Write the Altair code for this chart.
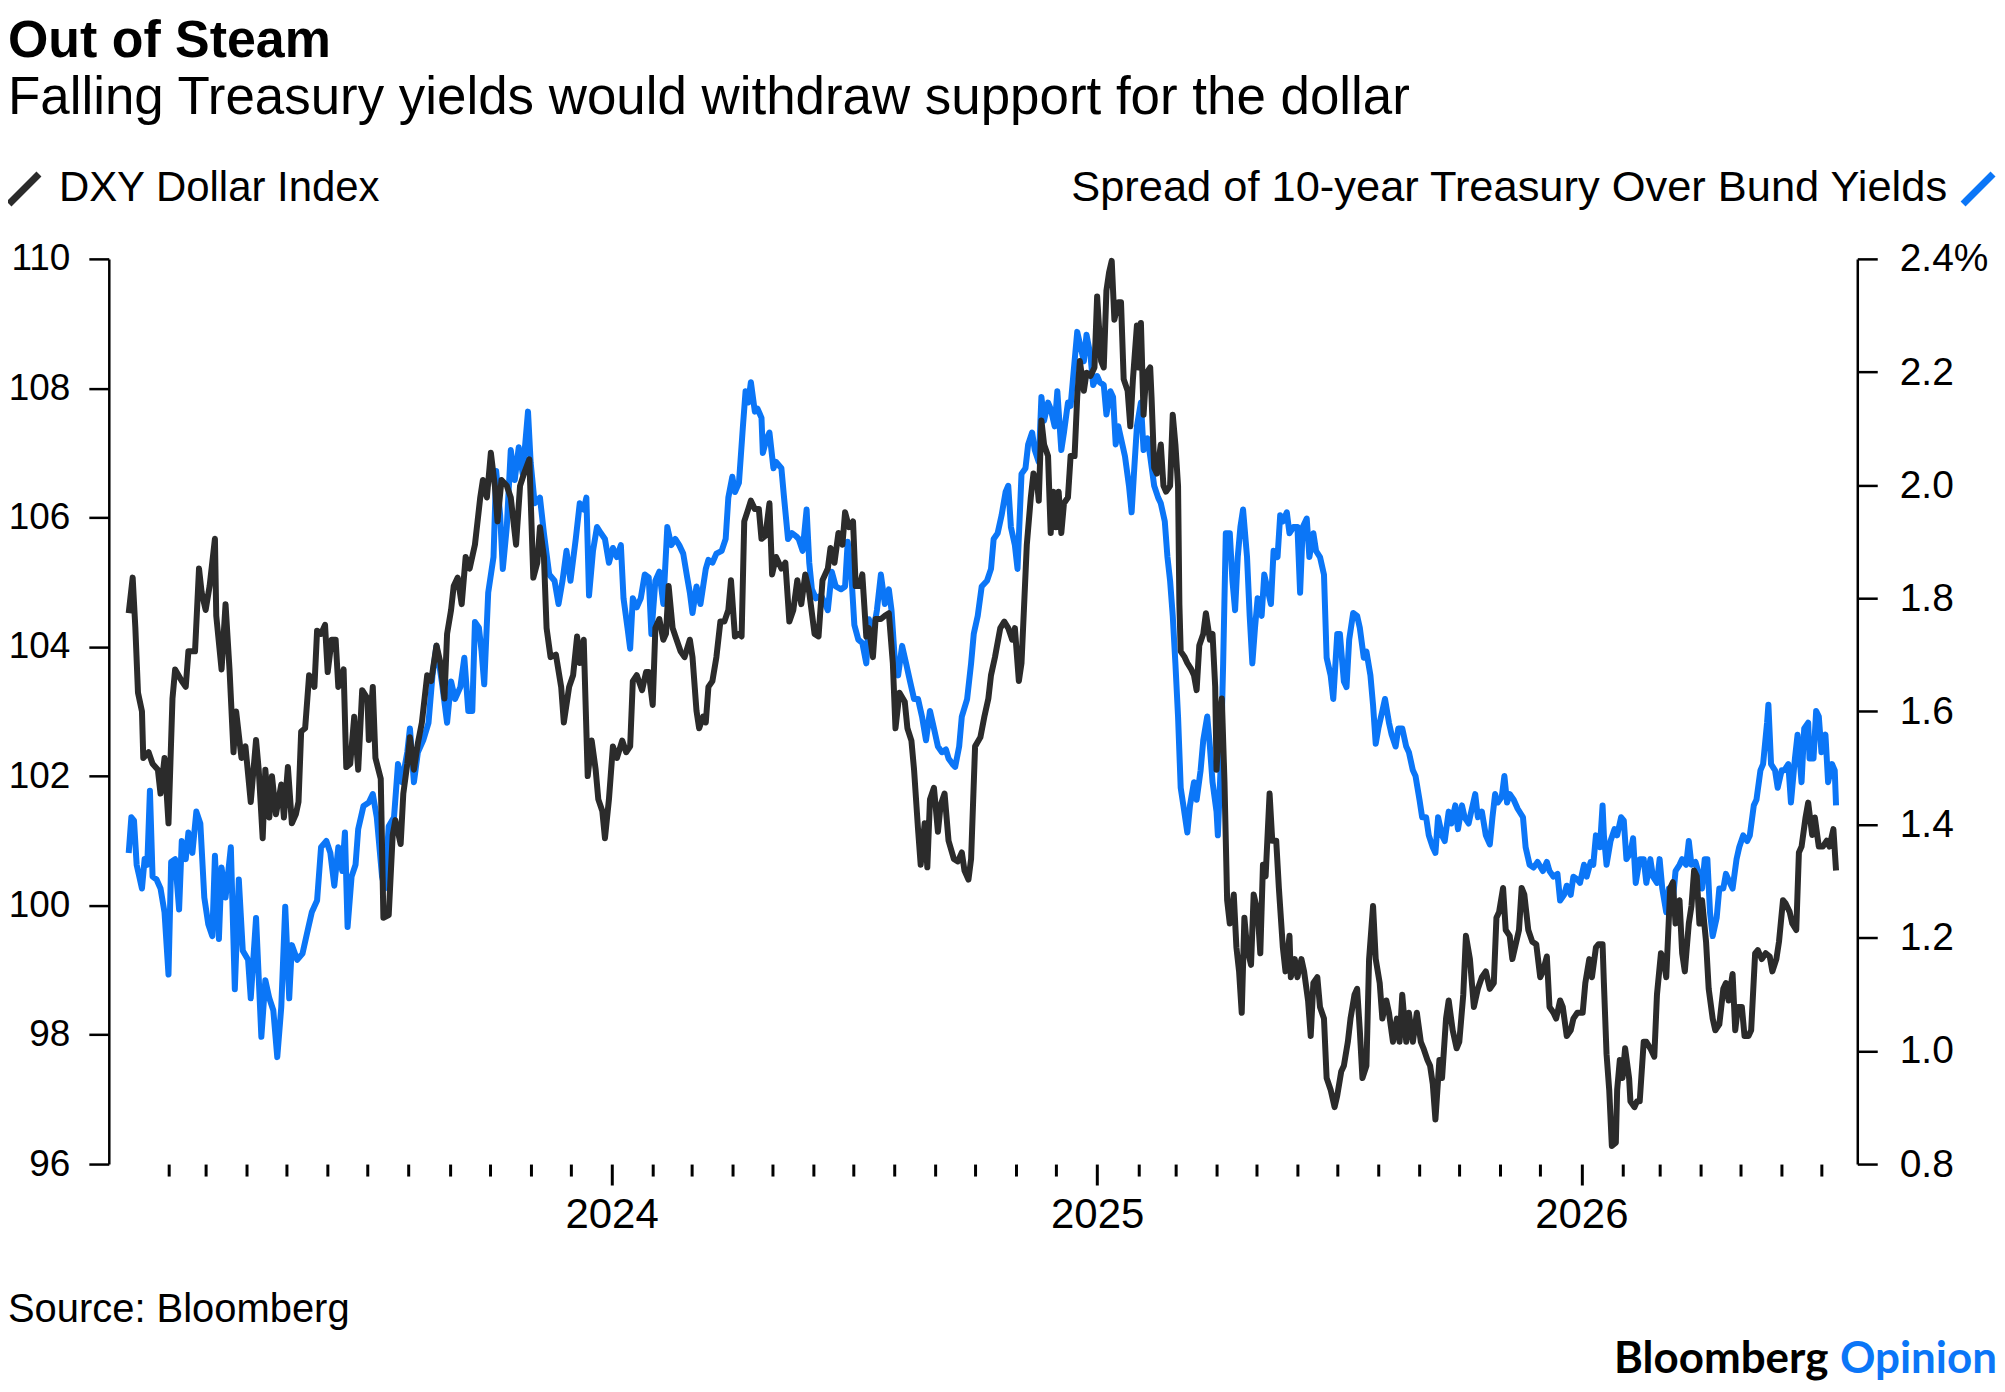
import altair as alt
import pandas as pd

TITLE = "Out of Steam"
SUBTITLE = "Falling Treasury yields would withdraw support for the dollar"
DXY_LABEL = "DXY Dollar Index"
SPREAD_LABEL = "Spread of 10-year Treasury Over Bund Yields"
SOURCE = "Source: Bloomberg"

BLACK = "#2b2b2b"
BLUE = "#0b76f7"
FONT = "Liberation Sans"

# days counted from 2023-01-01
DXY_DAYS = [
    1, 4, 6, 8, 11, 12, 16, 19, 23, 25, 28, 31, 34, 36, 41, 44, 46, 51, 54, 56,
    59, 62, 66, 67, 71, 74, 77, 80, 82, 86, 89, 93, 97, 99, 102, 104, 107, 109, 112, 116,
    118, 121, 124, 127, 129, 131, 134, 137, 141, 143, 146, 149, 151, 154, 157, 159, 163, 165, 168, 171,
    174, 177, 181, 182, 185, 187, 191, 193, 197, 200, 202, 206, 208, 211, 213, 216, 219, 222, 226, 229,
    233, 236, 239, 241, 244, 246, 249, 252, 255, 258, 262, 266, 268, 271, 274, 277, 279, 282, 286, 289,
    293, 296, 299, 303, 306, 309, 311, 314, 316, 319, 323, 327, 329,
    333, 336, 339, 341, 344, 347, 350, 353, 355, 358, 360, 363, 366, 369, 373, 376, 379, 381, 384, 388,
    391, 393, 396, 398, 401, 404, 406, 408, 411, 414, 417, 420, 424, 426, 429, 431, 434, 436, 438, 441,
    444, 447, 450, 453, 455, 458, 461, 463, 465, 468, 470, 473, 476, 478, 481, 484, 486, 489, 493, 496,
    499, 502, 505, 508, 511, 514, 518, 521, 524, 528, 530, 533, 536, 539, 541, 544, 547, 549, 552, 554,
    557, 559, 562, 564, 568, 571, 574, 577, 579, 582, 586, 588, 591, 593, 596, 598, 601, 603, 605, 608,
    611, 613, 616, 619, 623, 626, 629, 631, 634, 636, 639, 643, 646, 649, 651, 654, 658, 661, 664, 667,
    669, 672,
    674, 676, 678, 681, 683, 686, 687, 689, 691, 694, 696, 698, 700, 702, 704, 706, 709, 711, 714, 716,
    718, 721, 723, 726, 729, 731, 734, 736, 738, 740, 742, 744, 747, 749, 751, 754, 756, 758, 761, 762,
    764, 766, 768, 771, 772, 774, 776, 779, 781, 783, 786, 788, 790, 792, 793, 794, 797, 799, 802, 804,
    806, 808, 811, 813, 816, 818, 820, 821, 823, 825, 827, 829, 831, 834, 836, 838, 840, 842, 844, 847,
    849, 852, 854, 856, 858, 861, 863, 866, 868, 871, 873, 876, 877, 880, 882, 885, 887, 890, 892, 894,
    897, 899, 902, 904, 907, 910, 912, 915, 917, 920, 922, 925, 927, 929, 931, 934, 936, 939, 941, 944,
    946, 949, 951, 954, 957, 959, 961, 964, 966, 969, 972, 975, 977, 980, 982, 984, 986, 989, 991, 994,
    996, 999, 1002, 1004, 1007, 1009, 1012, 1015, 1018, 1021, 1024,
    1027, 1030, 1032, 1034, 1037, 1039, 1042, 1044, 1047, 1049, 1051, 1053, 1056, 1059, 1062, 1065, 1067, 1070, 1072, 1075,
    1077, 1080, 1082, 1085, 1088, 1090, 1093, 1097, 1099, 1102, 1104, 1107, 1109, 1112, 1113, 1115, 1117, 1119, 1122, 1123,
    1125, 1127, 1129, 1132, 1133, 1136, 1138, 1140, 1143, 1145, 1148, 1151, 1153, 1156, 1158, 1160, 1163, 1165, 1167, 1170,
    1172, 1174, 1177, 1179, 1181, 1183, 1185, 1187, 1190, 1192, 1195, 1197, 1200, 1203, 1205, 1207, 1210, 1212, 1214, 1217,
    1219, 1222, 1224, 1227, 1229, 1232, 1235, 1238, 1240, 1243, 1245, 1248, 1250, 1253, 1255, 1258, 1260, 1262, 1265, 1267,
    1270, 1272, 1275, 1278, 1281, 1283, 1286, 1288,
]
DXY_VALUES = [
    104.52, 105.07, 104.3, 103.29, 103.0, 102.28, 102.37, 102.19, 102.1, 101.73, 102.28, 101.27, 103.2, 103.65, 103.47, 103.38, 103.93, 103.93, 105.21, 104.84,
    104.57, 104.94, 105.67, 104.48, 103.65, 104.66, 103.65, 102.37, 103.0, 102.28, 102.46, 101.6, 102.56, 102.1, 101.04, 102.1, 101.36, 102.0, 101.41, 101.87,
    101.36, 102.14, 101.27, 101.41, 101.6, 102.69, 102.74, 103.56, 103.38, 104.25, 104.2, 104.34, 103.61, 104.11, 104.11, 103.38, 103.65, 102.14, 102.19, 102.92,
    102.1, 103.33, 103.2, 102.56, 103.38, 102.28, 101.96, 99.81, 99.85, 101.09, 101.32, 100.95, 101.73, 102.19, 102.6, 102.1, 102.51, 102.83, 103.56, 103.47,
    104.02, 103.75, 103.2, 104.2, 104.57, 104.94, 105.07, 104.66, 105.39, 105.21, 105.58, 106.31, 106.58, 106.31, 107.0, 106.49, 105.94, 106.58, 106.49, 106.31,
    105.58, 106.49, 106.68, 106.9, 105.07, 105.3, 105.85, 105.39, 104.29, 103.84, 103.88, 103.38, 102.83,
    103.38, 103.56, 104.16, 103.75, 104.11, 102.0, 102.55, 102.1, 101.64, 101.46, 101.04, 101.64, 102.46, 102.28, 102.55, 102.37, 102.46, 103.47, 103.56, 103.33,
    103.61, 103.61, 103.1, 104.29, 104.43, 104.11, 104.2, 104.94, 104.29, 104.11, 103.93, 103.84, 104.11, 103.84, 103.01, 102.74, 102.92, 102.83, 103.38, 103.47,
    103.84, 104.39, 104.39, 104.57, 105.03, 104.16, 104.2, 104.16, 105.94, 106.13, 106.26, 106.13, 106.13, 105.67, 105.72, 106.22, 105.12, 105.39, 105.21, 105.3,
    104.39, 104.57, 105.03, 104.66, 105.12, 104.84, 104.2, 104.16, 105.03, 105.21, 105.53, 105.3, 105.76, 105.58, 106.08, 105.85, 105.94, 104.94, 104.94, 105.12,
    104.16, 104.29, 103.84, 104.43, 104.43, 104.48, 104.52, 103.75, 102.74, 103.29, 103.15, 102.74, 102.55, 102.1, 101.18, 100.63, 101.27, 100.59, 101.64, 101.82,
    101.14, 101.55, 101.73, 101.0, 100.72, 100.68, 100.82, 100.54, 100.4, 100.72, 102.46, 102.6, 102.92, 103.2, 103.56, 103.84, 104.29, 104.39, 104.29, 104.11,
    104.29, 103.47,
    103.75, 104.66, 105.58, 106.31, 106.68, 106.49, 106.26, 107.5, 107.13, 106.95, 105.76, 106.4, 105.85, 106.4, 105.76, 106.22, 106.31, 106.95, 106.95, 107.87,
    108.42, 107.96, 108.24, 108.19, 108.32, 109.42, 108.42, 108.32, 109.51, 109.79, 109.97, 109.06, 109.33, 109.33, 108.14, 107.96, 107.41, 108.14, 108.97, 108.32,
    109.01, 107.59, 108.23, 108.32, 107.87, 106.77, 106.68, 107.13, 106.49, 106.4, 106.49, 107.59, 107.13, 106.49, 104.66, 103.93, 103.84, 103.75, 103.65, 103.56,
    103.33, 104.02, 104.2, 104.52, 104.11, 104.2, 103.38, 102.1, 102.83, 103.2, 101.91, 100.08, 99.72, 100.17, 99.35, 98.98, 98.34, 99.81, 99.35, 99.08,
    100.17, 99.9, 99.26, 100.63, 100.45, 101.73, 101.0, 101.0, 100.27, 99.35, 98.98, 99.53, 98.89, 99.17, 98.89, 99.17, 98.98, 98.53, 97.98, 98.8,
    98.89, 98.43, 98.25, 97.33, 97.15, 96.88, 97.06, 97.43, 97.52, 97.89, 98.25, 98.62, 98.71, 98.07, 97.33, 97.52, 99.17, 99.99, 99.17, 98.8,
    98.25, 98.53, 98.34, 97.89, 98.25, 97.89, 98.62, 97.89, 98.34, 97.89, 98.34, 97.89, 97.79, 97.61, 97.52, 97.24, 96.69, 97.61, 97.33, 98.25,
    98.53, 98.07, 97.79, 97.89, 98.62, 99.53, 99.17, 98.43, 98.71, 98.89, 98.98,
    98.71, 98.8, 99.81, 99.9, 100.27, 99.62, 99.53, 99.17, 99.44, 99.62, 100.27, 100.17, 99.62, 99.44, 99.4, 98.89, 98.98, 99.21, 98.43, 98.34,
    98.25, 98.53, 98.43, 97.98, 98.07, 98.25, 98.34, 98.34, 98.8, 99.17, 98.89, 99.35, 99.4, 99.4, 98.8, 97.7, 97.15, 96.28, 96.33, 97.15,
    97.61, 97.33, 97.79, 97.33, 96.97, 96.88, 96.97, 96.97, 97.89, 97.89, 97.79, 97.66, 98.62, 99.26, 99.17, 98.89, 100.27, 100.36, 99.72, 100.08,
    99.26, 98.98, 99.72, 99.99, 100.54, 100.45, 99.72, 100.08, 99.44, 98.71, 98.25, 98.07, 98.16, 98.71, 98.8, 98.53, 98.94, 98.07, 98.43, 98.43,
    97.98, 97.98, 98.07, 99.26, 99.31, 99.17, 99.26, 99.21, 98.98, 99.17, 99.44, 100.08, 100.03, 99.9, 99.72, 99.62, 100.82, 100.91, 101.36, 101.59,
    101.09, 101.36, 100.91, 100.91, 101.0, 100.91, 101.18, 100.54,
]

SPREAD_DAYS = [
    1, 3, 5, 7, 9, 11, 13, 15, 17, 19, 22, 25, 28, 31, 33, 36, 39, 41, 44, 46,
    49, 52, 55, 58, 61, 64, 66, 69, 71, 74, 78, 81, 84, 87, 91, 93, 97, 101, 104, 107,
    110, 113, 116, 119, 122, 124, 128, 132, 136, 139, 143, 146, 150, 153, 156, 159, 162, 164, 166, 169,
    172, 174, 178, 182, 185, 188, 192, 194, 197, 201, 204, 207, 211, 213, 216, 219, 223, 227, 230, 233,
    237, 241, 244, 247, 251, 254, 257, 260, 262, 265, 267, 269, 272, 276, 278, 281, 283, 286, 289, 292,
    295, 298, 302, 304, 307, 311, 314, 318, 322, 325, 328, 331,
    334, 338, 341, 344, 346, 348, 351, 354, 357, 360, 363, 366, 369, 372, 374, 377, 379, 381, 384, 387,
    390, 393, 395, 398, 401, 404, 407, 410, 413, 416, 419, 422, 424, 426, 429, 432, 436, 438, 441, 444,
    448, 451, 453, 456, 458, 461, 464, 466, 468, 470, 473, 475, 478, 479, 482, 484, 487, 489, 493, 495,
    498, 501, 504, 506, 509, 512, 514, 516, 519, 523, 526, 528, 531, 534, 538, 541, 543, 546, 548, 551,
    554, 557, 559, 562, 565, 568, 571, 574, 576, 579, 581, 584, 587, 590, 593, 596, 599, 602, 605, 608,
    611, 614, 617, 619, 622, 624, 627, 629, 633, 636, 638, 641, 644, 648, 651, 653, 656, 659, 662, 664,
    666, 669, 671,
    674, 677, 679, 682, 684, 687, 689, 691, 694, 696, 699, 701, 704, 706, 709, 711, 714, 716, 718, 721,
    723, 726, 728, 731, 733, 736, 738, 741, 743, 745, 747, 750, 752, 755, 757, 759, 761, 764, 766, 769,
    771, 774, 777, 779, 782, 784, 786, 788, 790, 792, 794, 796, 799, 801, 804, 806, 809, 811, 814, 816,
    818, 821, 822, 824, 826, 828, 831, 833, 835, 837, 839, 841, 844, 846, 848, 850, 852, 855, 857, 859,
    862, 864, 867, 869, 871, 874, 876, 879, 882, 884, 886, 889, 891, 894, 896, 899, 902, 904, 907, 909,
    912, 914, 917, 919, 921, 924, 927, 929, 932, 934, 937, 939, 941, 943, 946, 948, 951, 953, 956, 958,
    961, 964, 966, 969, 971, 974, 976, 979, 981, 984, 986, 988, 991, 993, 996, 998, 1001, 1003, 1006, 1008,
    1011, 1013, 1016, 1018, 1021, 1024,
    1027, 1029, 1031, 1033, 1036, 1038, 1040, 1042, 1045, 1048, 1052, 1054, 1057, 1060, 1063, 1067, 1070, 1072, 1075, 1078,
    1080, 1083, 1085, 1088, 1090, 1093, 1095, 1098, 1100, 1103, 1105, 1107, 1110, 1112, 1113, 1115, 1118, 1121, 1123, 1126,
    1128, 1130, 1133, 1135, 1137, 1140, 1143, 1145, 1148, 1150, 1153, 1155, 1157, 1160, 1162, 1165, 1167, 1170, 1172, 1175,
    1177, 1179, 1182, 1184, 1187, 1189, 1191, 1193, 1195, 1198, 1200, 1203, 1205, 1208, 1210, 1213, 1215, 1218, 1221, 1223,
    1226, 1228, 1231, 1233, 1236, 1237, 1239, 1242, 1244, 1247, 1249, 1252, 1254, 1257, 1259, 1262, 1264, 1267, 1268, 1271,
    1273, 1275, 1277, 1280, 1282, 1285, 1287, 1288,
]
SPREAD_VALUES = [
    1.35, 1.413, 1.407, 1.329, 1.308, 1.287, 1.339, 1.329, 1.46, 1.308, 1.303, 1.287, 1.245, 1.135, 1.334, 1.339, 1.25, 1.371, 1.339, 1.386,
    1.35, 1.423, 1.402, 1.271, 1.224, 1.203, 1.345, 1.198, 1.324, 1.271, 1.36, 1.109, 1.303, 1.177, 1.161, 1.093, 1.235, 1.025, 1.125, 1.093,
    1.072, 0.989, 1.077, 1.255, 1.093, 1.187, 1.161, 1.172, 1.214, 1.245, 1.266, 1.36, 1.371, 1.35, 1.292, 1.36, 1.318, 1.386, 1.219, 1.308,
    1.329, 1.392, 1.433, 1.439, 1.454, 1.413, 1.308, 1.287, 1.397, 1.413, 1.507, 1.475, 1.528, 1.57, 1.475, 1.528, 1.549, 1.58, 1.664, 1.716,
    1.653, 1.58, 1.653, 1.622, 1.643, 1.695, 1.601, 1.601, 1.758, 1.748, 1.706, 1.648, 1.81, 1.873, 2.025, 1.947, 1.852, 1.926, 2.062, 2.009,
    2.067, 2.02, 2.13, 2.04, 1.968, 1.978, 1.915, 1.842, 1.831, 1.79, 1.831, 1.884,
    1.831, 1.905, 1.968, 1.957, 1.978, 1.805, 1.884, 1.926, 1.915, 1.905, 1.863, 1.889, 1.873, 1.894, 1.8, 1.748, 1.711, 1.8, 1.784, 1.8,
    1.842, 1.837, 1.737, 1.831, 1.847, 1.79, 1.926, 1.894, 1.905, 1.894, 1.879, 1.837, 1.81, 1.774, 1.821, 1.79, 1.852, 1.868, 1.863, 1.879,
    1.884, 1.905, 1.978, 2.015, 1.988, 2.004, 2.104, 2.166, 2.146, 2.182, 2.13, 2.135, 2.119, 2.057, 2.083, 2.093, 2.03, 2.041, 2.03, 1.978,
    1.905, 1.915, 1.91, 1.905, 1.884, 1.957, 1.863, 1.816, 1.8, 1.805, 1.79, 1.779, 1.847, 1.821, 1.816, 1.821, 1.9, 1.831, 1.753, 1.727,
    1.721, 1.685, 1.763, 1.737, 1.779, 1.842, 1.79, 1.816, 1.779, 1.674, 1.664, 1.716, 1.685, 1.653, 1.622, 1.622, 1.591, 1.549, 1.601, 1.57,
    1.538, 1.528, 1.533, 1.517, 1.507, 1.502, 1.538, 1.591, 1.622, 1.685, 1.737, 1.769, 1.821, 1.831, 1.852, 1.905, 1.915, 1.947, 1.988, 1.999,
    1.926, 1.894, 1.852,
    2.02, 2.03, 2.072, 2.093, 2.062, 2.041, 2.156, 2.114, 2.146, 2.135, 2.104, 2.166, 2.062, 2.093, 2.146, 2.14, 2.219, 2.271, 2.25, 2.219,
    2.266, 2.229, 2.177, 2.193, 2.182, 2.177, 2.125, 2.166, 2.156, 2.072, 2.104, 2.072, 2.051, 1.999, 1.952, 2.03, 2.104, 2.146, 2.062, 2.083,
    2.051, 1.999, 1.978, 1.968, 1.936, 1.873, 1.831, 1.769, 1.685, 1.591, 1.465, 1.434, 1.386, 1.434, 1.475, 1.444, 1.496, 1.549, 1.591, 1.538,
    1.475, 1.423, 1.381, 1.496, 1.685, 1.915, 1.915, 1.831, 1.779, 1.873, 1.926, 1.957, 1.873, 1.769, 1.685, 1.748, 1.8, 1.769, 1.842, 1.821,
    1.79, 1.884, 1.873, 1.947, 1.936, 1.952, 1.915, 1.926, 1.926, 1.81, 1.926, 1.941, 1.873, 1.915, 1.884, 1.873, 1.842, 1.695, 1.664, 1.622,
    1.737, 1.737, 1.653, 1.643, 1.727, 1.774, 1.769, 1.748, 1.695, 1.706, 1.664, 1.611, 1.543, 1.57, 1.601, 1.622, 1.58, 1.559, 1.538, 1.57,
    1.57, 1.538, 1.528, 1.496, 1.486, 1.444, 1.413, 1.413, 1.381, 1.36, 1.35, 1.413, 1.381, 1.371, 1.423, 1.402, 1.434, 1.392, 1.434, 1.413,
    1.402, 1.423, 1.454, 1.413, 1.423, 1.381,
    1.365, 1.413, 1.454, 1.439, 1.449, 1.486, 1.439, 1.454, 1.444, 1.428, 1.413, 1.36, 1.329, 1.324, 1.334, 1.318, 1.334, 1.318, 1.308, 1.313,
    1.266, 1.276, 1.292, 1.276, 1.308, 1.303, 1.297, 1.329, 1.308, 1.334, 1.329, 1.381, 1.36, 1.434, 1.381, 1.329, 1.371, 1.392, 1.381, 1.413,
    1.407, 1.339, 1.35, 1.376, 1.297, 1.339, 1.339, 1.297, 1.339, 1.308, 1.297, 1.339, 1.287, 1.245, 1.287, 1.266, 1.318, 1.329, 1.339, 1.329,
    1.371, 1.329, 1.334, 1.318, 1.287, 1.339, 1.339, 1.245, 1.203, 1.235, 1.287, 1.287, 1.313, 1.297, 1.287, 1.339, 1.36, 1.381, 1.371, 1.381,
    1.434, 1.444, 1.496, 1.507, 1.58, 1.612, 1.507, 1.496, 1.465, 1.496, 1.496, 1.507, 1.439, 1.517, 1.559, 1.475, 1.57, 1.58, 1.517, 1.517,
    1.601, 1.591, 1.528, 1.559, 1.475, 1.507, 1.496, 1.434,
]

LEFT_TICKS = [96, 98, 100, 102, 104, 106, 108, 110]
RIGHT_TICKS = [0.8, 1.0, 1.2, 1.4, 1.6, 1.8, 2.0, 2.2, 2.4]
YEARS = [2024, 2025, 2026]


def to_dates(days):
    start = pd.Timestamp("2023-01-01")
    return [(start + pd.Timedelta(days=d)).strftime("%Y-%m-%d") for d in days]


dxy = pd.DataFrame({"date": to_dates(DXY_DAYS), "value": DXY_VALUES})
spread = pd.DataFrame({"date": to_dates(SPREAD_DAYS), "value": SPREAD_VALUES})

month_ticks = [
    alt.DateTime(year=y, month=m, date=1, utc=True)
    for y in range(2023, 2027)
    for m in range(2, 13)
    if (y, m) <= (2026, 7)
]
year_ticks = [alt.DateTime(year=y, month=1, date=1, utc=True) for y in YEARS]

x_scale = alt.Scale(
    type="utc",
    domain=[
        alt.DateTime(year=2022, month=12, date=18, utc=True),
        alt.DateTime(year=2026, month=7, date=28, utc=True),
    ],
)

axis_style = dict(
    grid=False, title=None, labelFont=FONT, labelColor="black",
    tickColor="black", domainColor="black", labelFlush=False, labelOverlap=False,
)

spread_line = alt.Chart(spread).mark_line(
    color=BLUE, strokeWidth=6, strokeJoin="round"
).encode(
    x=alt.X("date:T", scale=x_scale, axis=alt.Axis(
        orient="bottom", values=year_ticks, domain=False, tickSize=21, tickWidth=3,
        labelFontSize=42, labelPadding=10,
        labelExpr="utcFormat(datum.value, '%Y')", **axis_style)),
    y=alt.Y("value:Q", scale=alt.Scale(domain=[0.8, 2.4], nice=False, zero=False),
            axis=alt.Axis(orient="right", values=RIGHT_TICKS, tickSize=20, tickWidth=2.5,
                          domainWidth=2.5, labelFontSize=39, labelPadding=22,
                          labelExpr="datum.value > 2.39 ? format(datum.value, '.1f') + '%' : format(datum.value, '.1f')",
                          **axis_style)),
)

dxy_line = alt.Chart(dxy).mark_line(
    color=BLACK, strokeWidth=6, strokeJoin="round"
).encode(
    x=alt.X("date:T", scale=x_scale, axis=alt.Axis(
        orient="bottom", values=month_ticks, domain=False, tickSize=12, tickWidth=3,
        labels=False, **axis_style)),
    y=alt.Y("value:Q", scale=alt.Scale(domain=[96, 110], nice=False, zero=False),
            axis=alt.Axis(orient="left", values=LEFT_TICKS, format="d", tickSize=20,
                          tickWidth=2.5, domainWidth=2.5, labelFontSize=37,
                          labelPadding=19, **axis_style)),
)


def label(text, x, y, size, color="black", weight="normal", align="left", font=FONT):
    return alt.Chart(pd.DataFrame({"t": [text]})).mark_text(
        align=align, baseline="alphabetic", font=font, fontSize=size,
        fontWeight=weight, color=color,
    ).encode(x=alt.value(x), y=alt.value(y), text="t:N")


def slash(x0, y0, color):
    return alt.Chart(pd.DataFrame({"k": [0]})).mark_rule(
        color=color, strokeWidth=7
    ).encode(x=alt.value(x0), x2=alt.value(x0 + 30), y=alt.value(y0), y2=alt.value(y0 - 30))


texts = [
    label(TITLE, -101, -202, 52, weight="bold"),
    label(SUBTITLE, -101, -145, 53),
    label(DXY_LABEL, -50, -58, 42),
    label(SPREAD_LABEL, 1842, -58, 43.5, align="right"),
    label(SOURCE, -101, 1065, 40),
    label("Bloomberg", 1723, 1116, 44, weight="bold", align="right", font="Lato"),
    label("Opinion", 1892, 1116, 44, color=BLUE, weight="bold", align="right", font="Lato"),
]
icons = [slash(-100, -55, BLACK), slash(1858, -55, BLUE)]

chart = alt.layer(spread_line, dxy_line, *texts, *icons).resolve_scale(
    y="independent"
).resolve_axis(
    x="independent", y="independent"
).properties(
    width=1752,
    height=907,
    padding={"left": 101, "top": 250, "right": 140, "bottom": 219},
    autosize=alt.AutoSizeParams(type="none"),
).configure_view(stroke=None)

chart.save("out.html", embed_options={"renderer": "svg", "actions": False})
